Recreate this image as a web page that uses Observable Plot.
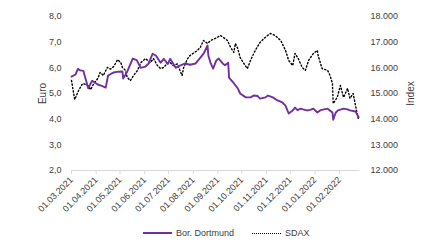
<!DOCTYPE html>
<html><head><meta charset="utf-8">
<script src="https://cdn.jsdelivr.net/npm/d3@7"></script>
<script src="https://cdn.jsdelivr.net/npm/@observablehq/plot@0.6"></script>
<style>
body{margin:0;background:#fff;font-family:"Liberation Sans",Arial,sans-serif;}
#legend{position:relative;height:20px;font-size:9px;color:#404040;}
#legend .item{position:absolute;top:6px;display:flex;align-items:center;gap:4px;white-space:nowrap;}
#legend .sw{display:inline-block;width:29px;height:0;}
</style></head><body><div id="chart"></div><div id="legend"></div>
<script>
const seriesNames = ["Bor. Dortmund", "SDAX"];
const bvbDates = ["2021-03-01","2021-03-06","2021-03-09","2021-03-12","2021-03-16","2021-03-22","2021-03-27","2021-04-03","2021-04-08","2021-04-13","2021-04-16","2021-04-23","2021-04-29","2021-05-04","2021-05-05","2021-05-10","2021-05-17","2021-05-22","2021-05-27","2021-06-02","2021-06-06","2021-06-11","2021-06-15","2021-06-21","2021-06-25","2021-06-30","2021-07-03","2021-07-10","2021-07-16","2021-07-22","2021-07-28","2021-08-04","2021-08-10","2021-08-14","2021-08-19","2021-08-20","2021-08-23","2021-08-26","2021-08-30","2021-09-02","2021-09-07","2021-09-10","2021-09-14","2021-09-15","2021-09-21","2021-09-26","2021-09-29","2021-10-06","2021-10-12","2021-10-16","2021-10-21","2021-10-24","2021-10-31","2021-11-03","2021-11-09","2021-11-15","2021-11-21","2021-11-25","2021-11-29","2021-12-04","2021-12-07","2021-12-10","2021-12-14","2021-12-17","2021-12-22","2021-12-26","2021-12-30","2022-01-04","2022-01-08","2022-01-17","2022-01-23","2022-01-24","2022-01-27","2022-01-30","2022-02-06","2022-02-11","2022-02-14","2022-02-21","2022-02-25"];
const bvbValues = [5.66,5.74,5.96,5.9,5.88,5.2,5.5,5.35,5.3,5.23,5.7,5.82,5.85,5.86,5.58,5.85,6.36,6.3,6.0,6.05,6.17,6.55,6.48,6.2,6.35,6.15,6.35,6.0,6.1,6.17,6.12,6.17,6.4,6.55,6.87,6.48,6.17,5.97,6.29,6.36,6.17,6.1,6.2,5.62,5.4,5.2,5.0,4.85,4.85,4.92,4.9,4.8,4.85,4.92,4.85,4.73,4.65,4.53,4.22,4.34,4.45,4.35,4.41,4.38,4.34,4.36,4.41,4.26,4.35,4.41,4.26,3.98,4.25,4.34,4.41,4.38,4.34,4.3,4.08];
const sdaxDates = ["2021-03-01","2021-03-05","2021-03-10","2021-03-15","2021-03-19","2021-03-22","2021-03-25","2021-03-29","2021-04-03","2021-04-06","2021-04-10","2021-04-15","2021-04-19","2021-04-23","2021-04-28","2021-05-02","2021-05-04","2021-05-08","2021-05-10","2021-05-14","2021-05-18","2021-05-23","2021-05-27","2021-06-02","2021-06-08","2021-06-12","2021-06-17","2021-06-21","2021-06-25","2021-06-30","2021-07-03","2021-07-07","2021-07-12","2021-07-18","2021-07-20","2021-07-25","2021-07-28","2021-08-06","2021-08-10","2021-08-14","2021-08-19","2021-08-23","2021-08-29","2021-09-04","2021-09-08","2021-09-13","2021-09-17","2021-09-21","2021-09-23","2021-09-26","2021-09-29","2021-10-03","2021-10-08","2021-10-12","2021-10-18","2021-10-24","2021-10-31","2021-11-06","2021-11-12","2021-11-19","2021-11-25","2021-11-29","2021-12-04","2021-12-07","2021-12-11","2021-12-16","2021-12-20","2021-12-24","2021-12-30","2022-01-04","2022-01-05","2022-01-10","2022-01-17","2022-01-20","2022-01-23","2022-01-24","2022-01-29","2022-02-02","2022-02-06","2022-02-11","2022-02-14","2022-02-18","2022-02-23","2022-02-25"];
const sdaxValues = [15508,14766,15120,15390,15350,15300,15150,15390,15580,15820,15700,16015,15950,16050,16320,16200,16015,15900,15630,15500,15700,15900,16200,16360,16200,16360,16090,15970,16015,16200,16200,16090,16150,15700,16015,16360,16480,16670,16800,17065,16950,17065,17150,17260,17180,17065,16800,16600,16950,16750,16400,16200,15970,16290,16680,16990,17200,17340,17260,17065,16680,16290,16090,16560,16360,16015,15900,16290,16560,16680,16480,15970,15900,15700,15390,14610,14850,15310,14850,15200,14810,15000,14220,13950];
const xTickDates = ["2021-03-01","2021-04-01","2021-05-01","2021-06-01","2021-07-01","2021-08-01","2021-09-01","2021-10-01","2021-11-01","2021-12-01","2022-01-01","2022-02-01"];
const euroTicks = [2,3,4,5,6,7,8];
const indexTicks = [12000,13000,14000,15000,16000,17000,18000];

const parse = d3.utcParse("%Y-%m-%d");
const toEuro = v => 2 + (v - 12000) / 1000;
const toIndex = e => 12000 + (e - 2) * 1000;
const de = d3.formatLocale({decimal: ",", thousands: ".", grouping: [3], currency: ["", "€"]});
const fmtEuro = de.format(".1f");
const fmtIndex = de.format(",.0f");

const bvb = bvbDates.map((d, i) => ({date: parse(d), value: bvbValues[i]}));
const sdax = sdaxDates.map((d, i) => ({date: parse(d), value: toEuro(sdaxValues[i])}));
const xTicks = xTickDates.map(parse);

const purple = "#7030A0";

const chart = Plot.plot({
  width: 427,
  height: 222,
  marginTop: 16,
  marginBottom: 52,
  marginLeft: 71,
  marginRight: 68,
  style: {fontFamily: "Liberation Sans, Arial, sans-serif", fontSize: "9px", color: "#404040", background: "#fff"},
  x: {type: "utc", domain: [parse("2021-03-01"), parse("2022-02-26")]},
  y: {domain: [2, 8]},
  marks: [
    Plot.ruleY([2], {stroke: "#d9d9d9", strokeWidth: 1.2}),
    Plot.axisX(xTicks, {tickFormat: () => "", tickSize: 4, stroke: "#d9d9d9", label: null}),
    Plot.axisX(xTicks, {tickFormat: d3.utcFormat("%d.%m.%Y"), tickRotate: -45, tickSize: 0, tickPadding: 8, fill: "#404040", label: null}),
    Plot.axisY(euroTicks, {anchor: "left", tickSize: 0, tickPadding: 10, tickFormat: fmtEuro, fill: "#404040", label: "Euro", labelAnchor: "center", labelOffset: 33, labelArrow: "none"}),
    Plot.axisY(indexTicks.map(toEuro), {anchor: "right", tickSize: 0, tickPadding: 11, tickFormat: d => fmtIndex(toIndex(d)), fill: "#404040", label: "Index", labelAnchor: "center", labelOffset: 54, labelArrow: "none"}),
    Plot.line(sdax, {x: "date", y: "value", stroke: "#000", strokeWidth: 1.4, strokeDasharray: "1.3,2.2", curve: "linear"}),
    Plot.line(bvb, {x: "date", y: "value", stroke: purple, strokeWidth: 1.9, curve: "linear"})
  ]
});
document.getElementById("chart").appendChild(chart);
chart.querySelectorAll("[aria-label='y-axis label']").forEach(n => { n.style.fontSize = "10px"; });

const legend = document.getElementById("legend");
const items = [
  {name: seriesNames[0], left: 143, style: `border-top:2px solid ${purple}`},
  {name: seriesNames[1], left: 252, style: "border-top:1.5px dotted #000"}
];
items.forEach(it => {
  const el = document.createElement("div");
  el.className = "item";
  el.style.left = it.left + "px";
  el.innerHTML = `<span class="sw" style="${it.style}"></span><span>${it.name}</span>`;
  legend.appendChild(el);
});
</script></body></html>
